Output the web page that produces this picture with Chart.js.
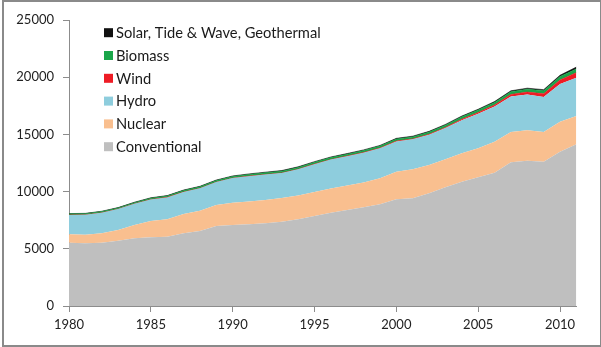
<!DOCTYPE html>
<html>
<head>
<meta charset="utf-8">
<script src="https://cdn.jsdelivr.net/npm/chart.js@4.4.1/dist/chart.umd.min.js"></script>
<style>
  html, body { margin: 0; padding: 0; background: #fff; }
  #frame { position: absolute; left: 2px; top: 0; width: 596px; height: 343px; border: 2px solid #8a8a8a; box-sizing: content-box; pointer-events: none; }
  #wrap { position: absolute; left: 0; top: 0; width: 601px; height: 347px; }
</style>
</head>
<body>
<div id="wrap"><canvas id="chart" width="601" height="347"></canvas></div>
<div id="frame"></div>
<script>
// World electricity generation by source (TWh), 1980-2011
const years = [1980,1981,1982,1983,1984,1985,1986,1987,1988,1989,1990,1991,1992,1993,1994,1995,
               1996,1997,1998,1999,2000,2001,2002,2003,2004,2005,2006,2007,2008,2009,2010,2011];

const conventional = [5530,5480,5530,5710,5915,6000,6060,6350,6555,6990,7080,7140,7225,7370,7575,7870,
                      8160,8390,8625,8890,9325,9410,9850,10375,10870,11250,11650,12560,12700,12600,13485,14130];
const nuclear      = [735,755,820,930,1165,1430,1515,1690,1775,1840,1950,1990,2040,2060,2080,2100,
                      2120,2150,2180,2280,2415,2540,2475,2445,2475,2530,2710,2660,2660,2620,2625,2480];
const hydro        = [1700,1740,1800,1830,1850,1880,1920,1930,1960,2000,2150,2220,2230,2200,2300,2430,
                      2520,2560,2600,2620,2650,2620,2640,2730,2900,3030,3080,3100,3120,3050,3300,3350];
const wind         = [0,0,0,0,1,1,1,2,2,3,4,4,5,6,7,8,
                      10,12,16,21,31,38,52,63,85,104,133,171,220,276,342,437];
const biomass      = [90,95,100,100,105,110,115,120,125,130,135,140,145,150,150,155,
                      160,160,165,165,170,175,185,195,205,215,225,240,255,270,300,330];
const solarEtc     = [25,27,30,32,35,38,40,42,45,48,50,52,53,54,55,56,
                      57,58,59,60,62,63,64,65,67,70,73,78,85,95,120,160];

const seriesNames  = ['Conventional','Nuclear','Hydro','Wind','Biomass','Solar, Tide & Wave, Geothermal'];
const seriesValues = [conventional, nuclear, hydro, wind, biomass, solarEtc];
const seriesColors = ['#bfbfbf','#f9bf8f','#8ecddd','#ee1c25','#1aa64a','#111111'];

const yTicks = [0,5000,10000,15000,20000,25000];
const xTickStep = 5;

const FONT = 'Lato, "Liberation Sans", sans-serif';

const datasets = seriesValues.map((vals, i) => ({
  label: seriesNames[i],
  data: vals.map((v, k) => ({ x: years[k], y: v })),
  backgroundColor: seriesColors[i],
  borderColor: seriesColors[i],
  borderWidth: i >= 3 ? 0.6 : 0,
  pointRadius: 0,
  tension: 0,
  fill: i === 0 ? 'origin' : '-1'
}));

// Legend drawn inside the plot area, top series listed first
const insideLegend = {
  id: 'insideLegend',
  afterDraw(chart) {
    const ctx = chart.ctx;
    ctx.save();
    ctx.font = '14.7px ' + FONT;
    ctx.textBaseline = 'middle';
    const items = chart.data.datasets.slice().reverse();
    items.forEach((ds, i) => {
      const cy = 32.7 + i * 22.8;
      ctx.fillStyle = ds.backgroundColor;
      ctx.fillRect(104, cy - 4.5, 9, 9);
      ctx.fillStyle = '#1a1a1a';
      ctx.fillText(ds.label, 116, cy + 0.5);
    });
    ctx.restore();
  }
};

new Chart(document.getElementById('chart'), {
  type: 'line',
  data: { datasets },
  plugins: [insideLegend],
  options: {
    responsive: false,
    animation: false,
    layout: { padding: { left: 0, right: 24.6, top: 20, bottom: 0 } },
    plugins: { legend: { display: false }, tooltip: { enabled: false } },
    scales: {
      x: {
        type: 'linear',
        min: years[0],
        max: years[years.length - 1],
        afterFit(scale) { scale.height = 41; },
        border: { display: true, color: '#8c8c8c', width: 1 },
        grid: { display: true, drawOnChartArea: false, drawTicks: true, tickLength: 6, color: '#8c8c8c' },
        ticks: {
          stepSize: xTickStep,
          includeBounds: false,
          autoSkip: false,
          maxRotation: 0,
          padding: 5,
          color: '#222',
          font: { family: FONT, size: 13 },
          callback: v => String(v)
        }
      },
      y: {
        stacked: true,
        min: yTicks[0],
        max: yTicks[yTicks.length - 1],
        afterFit(scale) { scale.width = 69; },
        afterBuildTicks(scale) { scale.ticks = yTicks.map(v => ({ value: v })); },
        border: { display: true, color: '#8c8c8c', width: 1 },
        grid: { display: true, drawOnChartArea: false, drawTicks: true, tickLength: 6, color: '#8c8c8c' },
        ticks: {
          padding: 9,
          color: '#222',
          font: { family: FONT, size: 13 },
          callback: v => String(v)
        }
      }
    }
  }
});
</script>
</body>
</html>
